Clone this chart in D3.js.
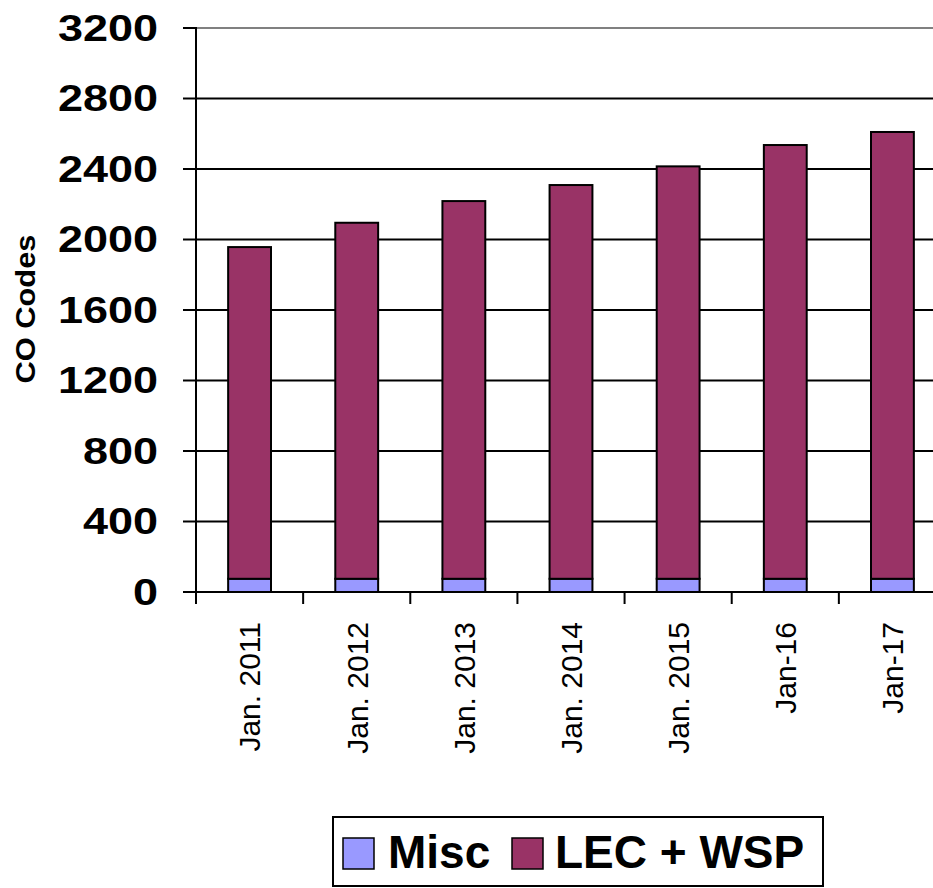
<!DOCTYPE html>
<html>
<head>
<meta charset="utf-8">
<script src="https://cdn.jsdelivr.net/npm/d3@7"></script>
<style>
  body { margin: 0; background: #fff; }
  svg { display: block; }
</style>
</head>
<body>
<div id="co-chart"></div>
<script>
// chart data
var vCategories = ["Jan. 2011", "Jan. 2012", "Jan. 2013", "Jan. 2014", "Jan. 2015", "Jan-16", "Jan-17"];
var vMisc = [75, 75, 75, 75, 75, 75, 75];
var vLecWsp = [1882, 2020, 2143, 2234, 2340, 2461, 2535];
var vYTicks = [0, 400, 800, 1200, 1600, 2000, 2400, 2800, 3200];
var vSeriesNames = ["Misc", "LEC + WSP"];
var vSeriesColors = ["#9999ff", "#993366"];

// dimensions
var vWidth = 933, vHeight = 888;
var vPlot = { mLeft: 196, mRight: 946, mTop: 28, mBottom: 592 };

var svg = d3.select("#co-chart")
    .append("svg")
    .attr("width", vWidth)
    .attr("height", vHeight);

// scales
var vYAxis = d3.scaleLinear()
    .domain([0, 3200])
    .range([vPlot.mBottom, vPlot.mTop]);

var vXAxis = d3.scaleBand()
    .domain(vCategories)
    .range([vPlot.mLeft, vPlot.mRight])
    .padding(0);

var vBarX = d3.scaleBand()
    .domain(vCategories)
    .range([vPlot.mLeft, vPlot.mRight])
    .paddingInner(0.6)
    .paddingOuter(0.3);

// gridlines
svg.append("g")
    .selectAll("line")
    .data(vYTicks.filter(function (aVal) { return aVal > 0; }))
    .enter()
    .append("line")
    .attr("x1", vPlot.mLeft)
    .attr("x2", vWidth)
    .attr("y1", function (aVal) { return vYAxis(aVal); })
    .attr("y2", function (aVal) { return vYAxis(aVal); })
    .attr("stroke", function (aVal) { return aVal === 3200 ? "#808080" : "#000"; })
    .attr("stroke-width", 2);

// stacked bars
var vStack = d3.stack().keys([0, 1])(vCategories.map(function (aCat, aIdx) {
    return [vMisc[aIdx], vLecWsp[aIdx]];
}));

svg.append("g")
    .selectAll("g")
    .data(vStack)
    .enter()
    .append("g")
    .attr("fill", function (aLayer, aIdx) { return vSeriesColors[aIdx]; })
    .selectAll("rect")
    .data(function (aLayer) { return aLayer; })
    .enter()
    .append("rect")
    .attr("x", function (aItem, aIdx) { return vBarX(vCategories[aIdx]); })
    .attr("width", vBarX.bandwidth())
    .attr("y", function (aItem) { return vYAxis(aItem[1]); })
    .attr("height", function (aItem) { return vYAxis(aItem[0]) - vYAxis(aItem[1]); })
    .attr("stroke", "#000")
    .attr("stroke-width", 2);

// y axis
var vYG = svg.append("g");
vYG.append("line")
    .attr("x1", vPlot.mLeft).attr("x2", vPlot.mLeft)
    .attr("y1", vPlot.mTop - 1).attr("y2", vPlot.mBottom)
    .attr("stroke", "#000").attr("stroke-width", 2);

var vYTick = vYG.selectAll("g.tick")
    .data(vYTicks)
    .enter()
    .append("g")
    .attr("class", "tick")
    .attr("transform", function (aVal) { return "translate(0," + vYAxis(aVal) + ")"; });

vYTick.append("line")
    .attr("x1", vPlot.mLeft - 13).attr("x2", vPlot.mLeft)
    .attr("stroke", "#000").attr("stroke-width", 2);

// labels look horizontally stretched in the original
vYTick.append("text")
    .attr("transform", "translate(158,0) scale(1.25,1)")
    .attr("text-anchor", "end")
    .attr("dy", "0.36em")
    .attr("font-family", "Liberation Sans, Arial, sans-serif")
    .attr("font-weight", "bold")
    .attr("font-size", 36)
    .attr("fill", "#000")
    .text(function (aVal) { return aVal; });

// y title
svg.append("text")
    .attr("transform", "translate(35,309) rotate(-90) scale(1.1,1)")
    .attr("text-anchor", "middle")
    .attr("font-family", "Liberation Sans, Arial, sans-serif")
    .attr("font-weight", "bold")
    .attr("font-size", 28)
    .text("CO Codes");

// x axis
var vXG = svg.append("g");
vXG.append("line")
    .attr("x1", vPlot.mLeft).attr("x2", vWidth)
    .attr("y1", vPlot.mBottom).attr("y2", vPlot.mBottom)
    .attr("stroke", "#000").attr("stroke-width", 2);

vXG.selectAll("line.xtick")
    .data(vCategories)
    .enter()
    .append("line")
    .attr("class", "xtick")
    .attr("x1", function (aCat) { return vXAxis(aCat); })
    .attr("x2", function (aCat) { return vXAxis(aCat); })
    .attr("y1", vPlot.mBottom)
    .attr("y2", vPlot.mBottom + 12)
    .attr("stroke", "#000").attr("stroke-width", 2);

vXG.selectAll("text")
    .data(vCategories)
    .enter()
    .append("text")
    .attr("transform", function (aCat) {
        return "translate(" + (vXAxis(aCat) + vXAxis.bandwidth() / 2) + ",622) rotate(-90)";
    })
    .attr("text-anchor", "end")
    .attr("dy", "0.36em")
    .attr("font-family", "Liberation Sans, Arial, sans-serif")
    .attr("font-size", 30)
    .text(function (aCat) { return aCat; });

// legend
var vLegend = svg.append("g");
vLegend.append("rect")
    .attr("x", 333).attr("y", 817)
    .attr("width", 490).attr("height", 69)
    .attr("fill", "#fff")
    .attr("stroke", "#000").attr("stroke-width", 2);

var vLegendX = [343, 512];
var vLegendTextX = [388, 555];
vSeriesNames.forEach(function (aName, aIdx) {
    vLegend.append("rect")
        .attr("x", vLegendX[aIdx]).attr("y", 838)
        .attr("width", 31).attr("height", 31)
        .attr("fill", vSeriesColors[aIdx])
        .attr("stroke", "#000").attr("stroke-width", 1.5);
    vLegend.append("text")
        .attr("x", vLegendTextX[aIdx]).attr("y", 868)
        .attr("font-family", "Liberation Sans, Arial, sans-serif")
        .attr("font-weight", "bold")
        .attr("font-size", 46)
        .text(aName);
});
</script>
</body>
</html>
